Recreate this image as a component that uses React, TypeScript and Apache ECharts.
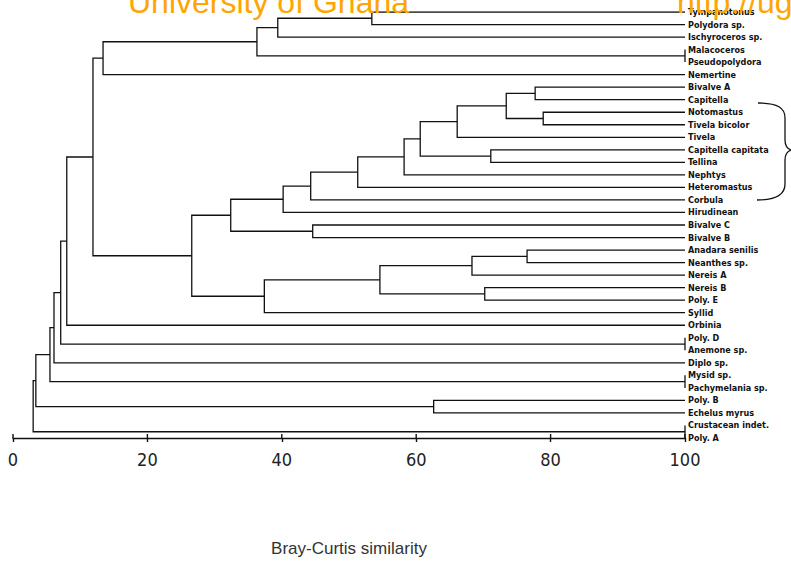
import React, { useEffect, useRef } from "react";
import * as echarts from "echarts";

// Leaf order, top to bottom
const leafLabels = [
  "Tympanotonus",
  "Polydora sp.",
  "Ischyroceros sp.",
  "Malacoceros",
  "Pseudopolydora",
  "Nemertine",
  "Bivalve A",
  "Capitella",
  "Notomastus",
  "Tivela bicolor",
  "Tivela",
  "Capitella capitata",
  "Tellina",
  "Nephtys",
  "Heteromastus",
  "Corbula",
  "Hirudinean",
  "Bivalve C",
  "Bivalve B",
  "Anadara senilis",
  "Neanthes sp.",
  "Nereis A",
  "Nereis B",
  "Poly. E",
  "Syllid",
  "Orbinia",
  "Poly. D",
  "Anemone sp.",
  "Diplo sp.",
  "Mysid sp.",
  "Pachymelania sp.",
  "Poly. B",
  "Echelus myrus",
  "Crustacean indet.",
  "Poly. A",
];

// Cluster merges: [cluster id, child A, child B, Bray-Curtis similarity (%)]
const merges: [string, string, string, number][] = [
  ["m1", "Tympanotonus", "Polydora sp.", 53.4],
  ["m2", "m1", "Ischyroceros sp.", 39.4],
  ["m3", "Malacoceros", "Pseudopolydora", 100],
  ["m4", "m2", "m3", 36.3],
  ["m5", "m4", "Nemertine", 13.4],
  ["m6", "Bivalve A", "Capitella", 77.7],
  ["m7", "Notomastus", "Tivela bicolor", 78.9],
  ["m8", "m6", "m7", 73.4],
  ["m9", "m8", "Tivela", 66.1],
  ["m10", "Capitella capitata", "Tellina", 71.1],
  ["m11", "m9", "m10", 60.6],
  ["m12", "m11", "Nephtys", 58.2],
  ["m13", "m12", "Heteromastus", 51.3],
  ["m14", "m13", "Corbula", 44.3],
  ["m15", "m14", "Hirudinean", 40.2],
  ["m16", "Bivalve C", "Bivalve B", 44.6],
  ["m17", "m15", "m16", 32.4],
  ["m18", "Anadara senilis", "Neanthes sp.", 76.5],
  ["m19", "m18", "Nereis A", 68.3],
  ["m20", "Nereis B", "Poly. E", 70.2],
  ["m21", "m19", "m20", 54.6],
  ["m22", "m21", "Syllid", 37.4],
  ["m23", "m17", "m22", 26.6],
  ["m24", "m5", "m23", 11.9],
  ["m25", "m24", "Orbinia", 8.0],
  ["m26", "Poly. D", "Anemone sp.", 100],
  ["m27", "m25", "m26", 7.1],
  ["m28", "m27", "Diplo sp.", 6.1],
  ["m29", "Mysid sp.", "Pachymelania sp.", 100],
  ["m30", "m28", "m29", 5.5],
  ["m31", "Poly. B", "Echelus myrus", 62.6],
  ["m32", "m30", "m31", 3.4],
  ["m33", "Crustacean indet.", "Poly. A", 100],
  ["m34", "m32", "m33", 3.0],
];

const axisTicks = [0, 20, 40, 60, 80, 100];
const axisTitle = "Bray-Curtis similarity";
const watermarkLeft = "University of Ghana";
const watermarkRight = "http://ug";

const narrowFont = '"Liberation Sans Narrow", "DejaVu Sans Condensed", "Roboto Condensed", "Liberation Sans", sans-serif';

function buildSegments() {
  const pos: Record<string, { y: number; h: number }> = {};
  leafLabels.forEach((n, i) => {
    pos[n] = { y: i, h: 100 };
  });
  const segs: { coords: number[][] }[] = [];
  for (const [id, a, b, s] of merges) {
    const A = pos[a];
    const B = pos[b];
    segs.push({
      coords: [
        [A.h, A.y],
        [s, A.y],
        [s, B.y],
        [B.h, B.y],
      ],
    });
    pos[id] = { y: (A.y + B.y) / 2, h: s };
  }
  return segs;
}

export default function App() {
  const ref = useRef<HTMLDivElement>(null);
  useEffect(() => {
    if (!ref.current) return;
    const chart = echarts.init(ref.current, null, { renderer: "svg" });
    const segs = buildSegments();
    const stroke = { stroke: "#111", lineWidth: 1.3, fill: "none" };
    const yMax = leafLabels.length - 1;
    chart.setOption({
      animation: false,
      backgroundColor: "#fff",
      grid: { left: 13, right: 106, top: 12, bottom: 124, containLabel: false },
      xAxis: {
        type: "value",
        min: axisTicks[0],
        max: axisTicks[axisTicks.length - 1],
        interval: 20,
        splitLine: { show: false },
        axisLine: { show: true, onZero: false, lineStyle: { color: "#111", width: 1.4 } },
        axisTick: { show: true, length: 4, lineStyle: { color: "#111", width: 1.4 } },
        axisLabel: {
          margin: 12,
          fontFamily: narrowFont,
          fontSize: 18,
          color: "#222",
        },
        name: axisTitle,
        nameLocation: "middle",
        nameGap: 102,
        nameTextStyle: {
          fontFamily: "Liberation Sans",
          fontSize: 17,
          color: "#333",
        },
      },
      yAxis: [
        {
          type: "value",
          min: 0,
          max: yMax,
          inverse: true,
          show: false,
        },
        {
          type: "category",
          data: leafLabels,
          inverse: true,
          boundaryGap: false,
          position: "right",
          axisLine: { show: false },
          axisTick: { show: false },
          splitLine: { show: false },
          axisLabel: {
            interval: 0,
            margin: 3,
            fontFamily: narrowFont,
            fontWeight: "bold",
            fontSize: 9,
            color: "#111",
          },
        },
      ],
      series: [
        {
          type: "lines",
          coordinateSystem: "cartesian2d",
          xAxisIndex: 0,
          yAxisIndex: 0,
          polyline: true,
          silent: true,
          lineStyle: { color: "#111", width: 1.3, opacity: 1 },
          data: segs,
        },
        {
          type: "custom",
          xAxisIndex: 0,
          yAxisIndex: 0,
          silent: true,
          clip: false,
          data: axisTicks.map((v) => [v, yMax]),
          renderItem: (params: any, api: any) => {
            const p = api.coord([api.value(0), api.value(1)]);
            return {
              type: "line",
              shape: { x1: p[0], y1: p[1], x2: p[0], y2: p[1] - 4 },
              style: { stroke: "#111", lineWidth: 1.4 },
            };
          },
        },
      ],
      graphic: [
        {
          type: "text",
          x: 128,
          y: 18,
          z: 100,
          style: {
            text: watermarkLeft,
            fill: "#FFA500",
            font: '32px "Liberation Sans"',
            verticalAlign: "bottom",
          },
        },
        {
          type: "text",
          x: 677,
          y: 18,
          z: 100,
          style: {
            text: watermarkRight,
            fill: "#FFA500",
            font: '32px "Liberation Sans"',
            verticalAlign: "bottom",
          },
        },
        { type: "bezierCurve", shape: { x1: 758, y1: 103, cpx1: 778, cpy1: 103, cpx2: 785, cpy2: 108, x2: 785, y2: 118 }, style: stroke },
        { type: "line", shape: { x1: 785, y1: 118, x2: 785, y2: 140 }, style: stroke },
        { type: "bezierCurve", shape: { x1: 785, y1: 140, cpx1: 785, cpy1: 146, cpx2: 788, cpy2: 149, x2: 791, y2: 150 }, style: stroke },
        { type: "bezierCurve", shape: { x1: 791, y1: 150, cpx1: 788, cpy1: 151, cpx2: 785, cpy2: 154, x2: 785, y2: 160 }, style: stroke },
        { type: "line", shape: { x1: 785, y1: 160, x2: 785, y2: 184 }, style: stroke },
        { type: "bezierCurve", shape: { x1: 785, y1: 184, cpx1: 785, cpy1: 194, cpx2: 776, cpy2: 200, x2: 757, y2: 200 }, style: stroke },
      ],
    });
    return () => chart.dispose();
  }, []);
  return <div ref={ref} style={{ width: 791, height: 562, position: "absolute", left: 0, top: 0 }} />;
}
